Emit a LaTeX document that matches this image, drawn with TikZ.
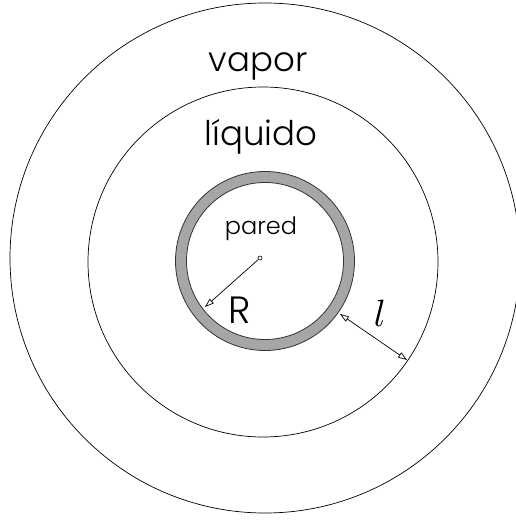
\documentclass[tikz,border=0pt]{standalone}
\usepackage{fontspec}
\setmainfont{Poppins}[UprightFont=* Light]
\usetikzlibrary{arrows.meta, positioning}
\tikzset{
  phase/.style={
    draw,
    line width=0.7pt
  },
  wall/.style={
    draw=gray!70,
    line width=11pt
  },
  wallrim/.style={
    draw=black!80,
    line width=0.8pt
  },
  region/.style={
    inner sep=0pt,
    font=\fontsize{34}{34}\selectfont
  },
  dim/.style={
    line width=0.7pt
  }
}
\begin{document}
\begin{tikzpicture}[x=1pt, y=-1pt]
\useasboundingbox (0,0) rectangle (515,521);

% --- Circles ---
\draw[phase] (265,258) circle (255);
\draw[phase] (263,262) circle (175);

% --- Pared ---
\draw[wall] (265,261) circle (84);
\draw[wallrim] (265,261) circle (78.5) (265,261) circle (89.5);

% --- Labels ---
\node[region, anchor=base] (vapor) at (258,72) {vapor};
\node[region, anchor=base] (liquido) at (261,146) {líquido};
\node[inner sep=0pt, anchor=base, font=\fontsize{24}{24}\selectfont] (pared) at (261,234) {pared};

% --- Radio R ---
\node[draw, circle, inner sep=0pt, minimum size=4pt, line width=0.6pt] (O) at (260,258) {};
\coordinate (Rend) at (205,307);
\draw[dim, -{Triangle[open, length=9pt, width=6pt]}] (O) -- (Rend);
\node[inner sep=0pt, font=\fontsize{38}{38}\selectfont] (R) at (240,310) {R};

% --- Espesor l ---
\coordinate (lstart) at (340,314);
\coordinate (lend) at (407,360);
\draw[dim, {Triangle[open, length=9pt, width=6pt]}-{Triangle[open, length=9pt, width=6pt]}] (lstart) -- (lend);
\node[inner sep=0pt, font=\normalsize] (ell) at (380,313) {\scalebox{3.8}{$l$}};

\end{tikzpicture}
\end{document}
